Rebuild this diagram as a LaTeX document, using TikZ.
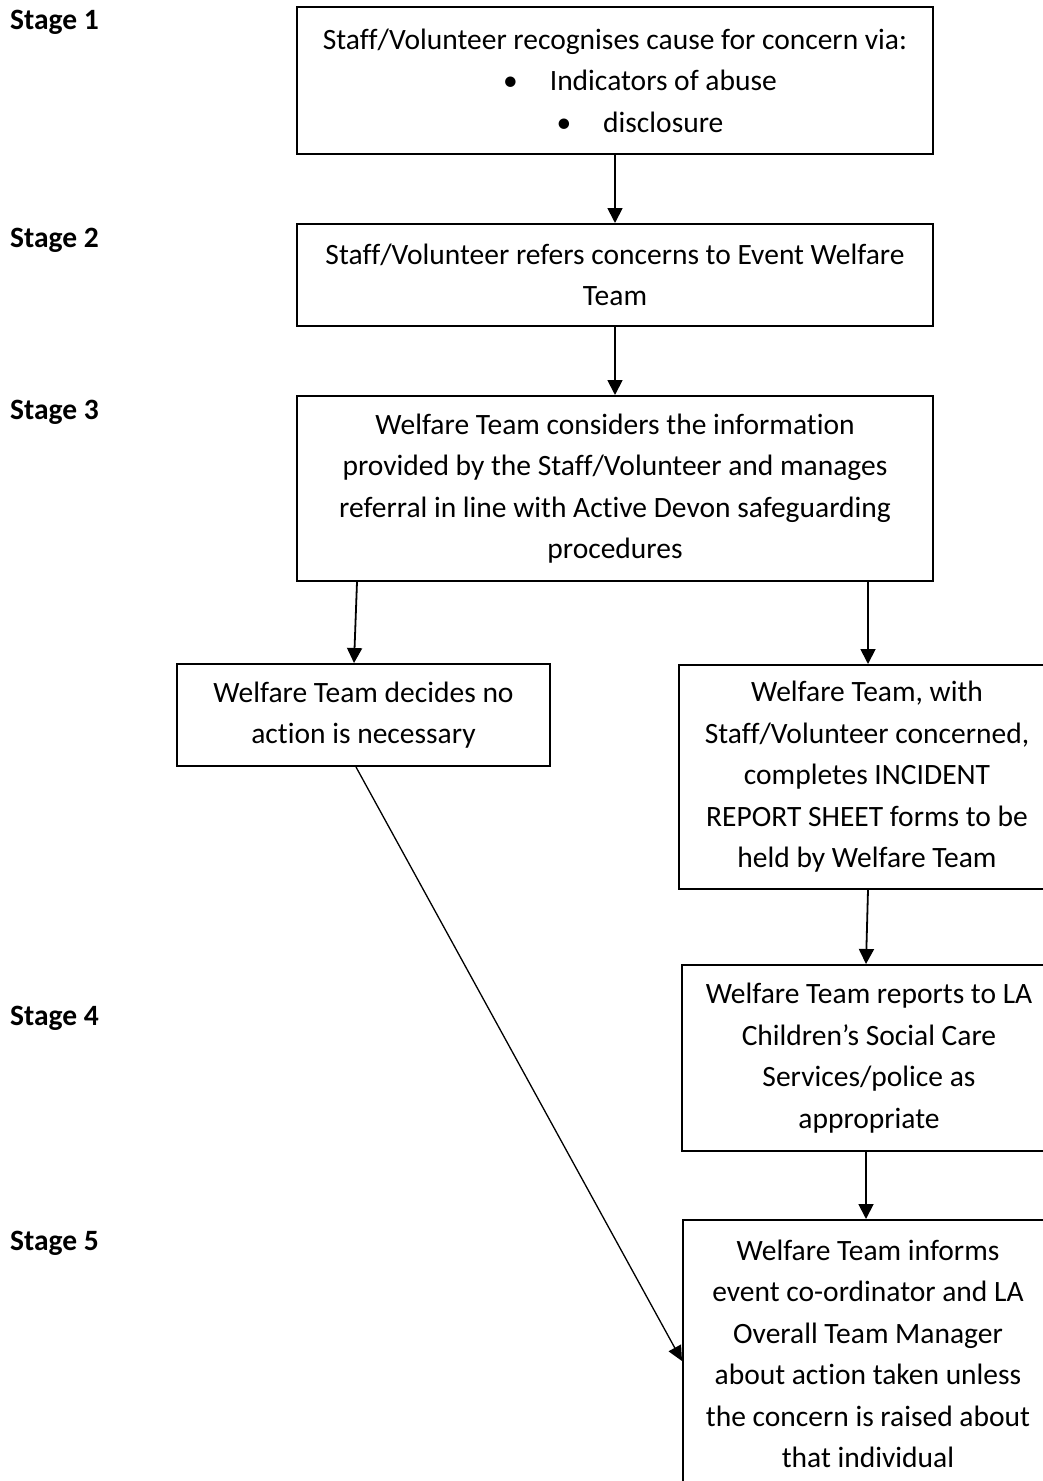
\documentclass[tikz,border=0pt]{standalone}
\usepackage{fontspec}
\setmainfont[Ligatures=NoCommon]{Carlito}
\usetikzlibrary{arrows.meta,calc}
\begin{document}
\begin{tikzpicture}[x=1pt,y=-1pt,
  box/.style={draw,line width=2pt,inner sep=0pt,align=center,font=\fontsize{29.5}{41.5}\selectfont},
  stagelbl/.style={anchor=west,inner sep=0pt,font=\fontsize{29.5}{32}\selectfont\bfseries},
  arr/.style={line width=1.8pt,-{Triangle[length=15pt,width=15pt]}},
  thinarr/.style={line width=1.3pt,-{Triangle[length=15pt,width=14pt]}}]
\useasboundingbox (0,0) rectangle (1043,1481);
\clip (0,0) rectangle (1043,1481);
\fill[white] (0,0) rectangle (1043,1481);
% stage labels
\node[stagelbl] (s1) at (10,22) {Stage 1};
\node[stagelbl] (s2) at (10,240) {Stage 2};
\node[stagelbl] (s3) at (10,412) {Stage 3};
\node[stagelbl] (s4) at (10,1018) {Stage 4};
\node[stagelbl] (s5) at (10,1243) {Stage 5};
% boxes
\node[box,minimum width=636pt,minimum height=147pt] (b1) at (615,80.5)
  {Staff/Volunteer recognises cause for concern via:\\
   \hspace*{50pt}\textbullet\hspace{32pt}Indicators of abuse\\
   \hspace*{50pt}\textbullet\hspace{32pt}disclosure};
\node[box,minimum width=636pt,minimum height=102pt] (b2) at (615,275)
  {Staff/Volunteer refers concerns to Event Welfare\\Team};
\node[box,minimum width=636pt,minimum height=185pt] (b3) at (615,488.5)
  {Welfare Team considers the information\\
   provided by the Staff/Volunteer and manages\\
   referral in line with Active Devon safeguarding\\
   procedures};
\node[box,minimum width=373pt,minimum height=102pt] (b4) at (363.5,715)
  {Welfare Team decides no\\action is necessary};
\node[box,minimum width=376pt,minimum height=224pt] (b5) at (867,777)
  {Welfare Team, with\\Staff/Volunteer concerned,\\completes INCIDENT\\REPORT SHEET forms to be\\held by Welfare Team};
\node[box,minimum width=374pt,minimum height=186pt] (b6) at (869,1058)
  {Welfare Team reports to LA\\Children’s Social Care\\Services/police as\\appropriate};
\node[box,minimum width=370pt,minimum height=268pt] (b7) at (868,1354)
  {Welfare Team informs\\event co-ordinator and LA\\Overall Team Manager\\about action taken unless\\the concern is raised about\\that individual};
% connectors
\draw[arr] (b1.south) -- (b2.north);
\draw[arr] (b2.south) -- (b3.north);
\draw[arr] ($(b3.south west)+(61,0)$) -- ($(b4.north west)+(178,0)$);
\draw[arr] ($(b3.south west)+(572,0)$) -- ($(b5.north west)+(190,0)$);
\draw[arr] ($(b5.south west)+(190,0)$) -- ($(b6.north west)+(185,0)$);
\draw[arr] ($(b6.south west)+(185,0)$) -- ($(b7.north west)+(184,0)$);
\draw[thinarr] ($(b4.south west)+(180,0)$) -- ($(b7.north west)+(0,142)$);
\end{tikzpicture}
\end{document}
